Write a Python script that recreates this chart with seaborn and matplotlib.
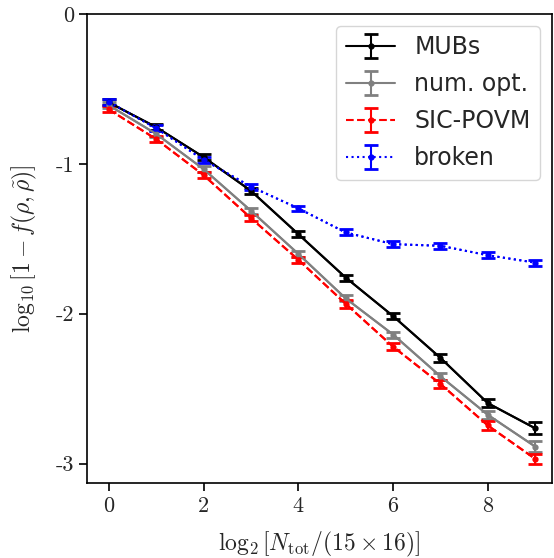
import numpy as np
import pandas as pd
import seaborn as sns
import matplotlib
matplotlib.use("Agg")
import matplotlib.pyplot as plt

x_vals = [0, 1, 2, 3, 4, 5, 6, 7, 8, 9]
mubs = [-0.590, -0.755, -0.955, -1.180, -1.469, -1.759, -2.016, -2.295, -2.597, -2.765]
mubs_err = [0.02, 0.02, 0.02, 0.02, 0.02, 0.02, 0.02, 0.025, 0.025, 0.04]
numopt = [-0.609, -0.800, -1.035, -1.313, -1.601, -1.898, -2.139, -2.418, -2.675, -2.887]
numopt_err = [0.02, 0.02, 0.02, 0.02, 0.02, 0.02, 0.02, 0.025, 0.025, 0.035]
sic = [-0.637, -0.835, -1.075, -1.362, -1.640, -1.934, -2.220, -2.469, -2.746, -2.969]
sic_err = [0.02, 0.02, 0.02, 0.02, 0.02, 0.025, 0.025, 0.025, 0.03, 0.035]
broken = [-0.587, -0.762, -0.973, -1.152, -1.297, -1.458, -1.536, -1.547, -1.610, -1.659]
broken_err = [0.02, 0.02, 0.02, 0.02, 0.015, 0.02, 0.02, 0.02, 0.02, 0.02]

labels = ["MUBs", "num. opt.", "SIC-POVM", "broken"]
series = [mubs, numopt, sic, broken]
errors = [mubs_err, numopt_err, sic_err, broken_err]
colors = ["black", "gray", "red", "blue"]
styles = ["-", "-", "--", ":"]

sns.set_style("ticks")
plt.rcParams["mathtext.fontset"] = "cm"
plt.rcParams["axes.unicode_minus"] = False
plt.rcParams["font.family"] = ["DejaVu Sans"]

fig = plt.figure(figsize=(5.54, 5.58), dpi=100)
ax = fig.add_axes([0.157, 0.1344, 0.839, 0.8405])

for lab, ys, es, c, ls in zip(labels, series, errors, colors, styles):
    df = pd.DataFrame({"x": x_vals, "y": ys})
    sns.lineplot(data=df, x="x", y="y", color=c, linestyle=ls, lw=1.5,
                 marker="o", markersize=3.5, markeredgewidth=0, legend=False, ax=ax)
    ax.errorbar(x_vals, ys, yerr=es, fmt="o", linestyle=ls, color=c, lw=1.5,
                markersize=3.5, capsize=5, capthick=2, elinewidth=1.5, label=lab)

ax.set_ylim(-3.13, 0)
ax.set_xlim(-0.46, 9.35)
ax.set_xticks([0, 2, 4, 6, 8])
ax.set_yticks([0, -1, -2, -3])
ax.set_xticklabels(["0", "2", "4", "6", "8"], family="cmr10", fontsize=16)
ax.set_yticklabels(["0", "-1", "-2", "-3"], family="cmr10", fontsize=16)
ax.tick_params(direction="out", length=6, width=1.2, color="black")
for s in ax.spines.values():
    s.set_color("black")
    s.set_linewidth(1.2)

ax.set_xlabel(r"$\log_2[N_{\rm tot}/(15\times16)]$", fontsize=17, labelpad=10)
ax.set_ylabel(r"$\log_{10}[1-f(\rho,\tilde{\rho})]$", fontsize=17, labelpad=12)

leg = ax.legend(loc="upper right", fontsize=17, handlelength=2.1, frameon=True,
                labelspacing=0.55, borderaxespad=0.5)
leg.get_frame().set_edgecolor("#cccccc")

fig.savefig("out.png", dpi=100)
